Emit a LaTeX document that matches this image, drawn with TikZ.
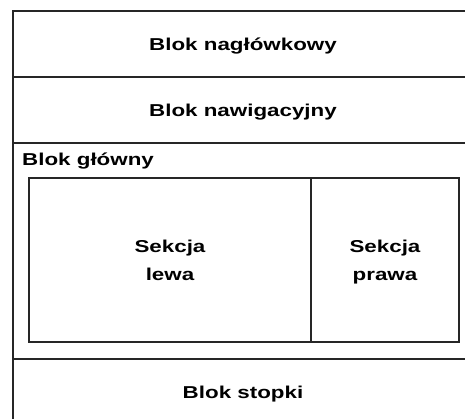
\documentclass[tikz,border=0pt]{standalone}
\usepackage{fontspec}
\newfontfamily\diagfont{Liberation Sans}[FakeStretch=1.3]
\usetikzlibrary{positioning}

\newcommand{\blockfont}{\diagfont\bfseries\fontsize{17.2}{28}\selectfont}

\tikzset{
    block/.style={draw=black!85, line width=1.1pt, rectangle, inner sep=0pt, outer sep=0pt,
        minimum width=460pt, minimum height=66pt, text height=12pt, text depth=0pt, font=\blockfont},
    section/.style={draw=black!85, line width=1.1pt, rectangle, inner sep=0pt, outer sep=0pt,
        minimum height=164pt, align=center, text depth=0pt, font=\blockfont}
}

\begin{document}
\begin{tikzpicture}[x=1pt,y=-1pt]
    % page frame, the blocks run past the right and bottom edge
    \useasboundingbox (0,0) rectangle (465,418);
    \clip (0,0) rectangle (465,418);

    % header and navigation on top
    \node[block, anchor=north west] (header) at (13,11) {Blok nagłówkowy};
    \node[block, below=0pt of header] (nav) {Blok nawigacyjny};

    % main block with its title in the corner
    \node[block, below=0pt of nav, minimum height=216pt] (main) {};
    \node[anchor=base west, inner sep=0pt, font=\blockfont] (maintitle) at (22,165) {Blok główny};

    % two sections inside the main block
    \node[section, minimum width=282pt, anchor=north west] (left) at (29,178) {Sekcja\\lewa};
    \node[section, minimum width=148pt, right=0pt of left] (right) {Sekcja\\prawa};

    % footer at the bottom
    \node[block, below=0pt of main] (footer) {Blok stopki};
\end{tikzpicture}
\end{document}
